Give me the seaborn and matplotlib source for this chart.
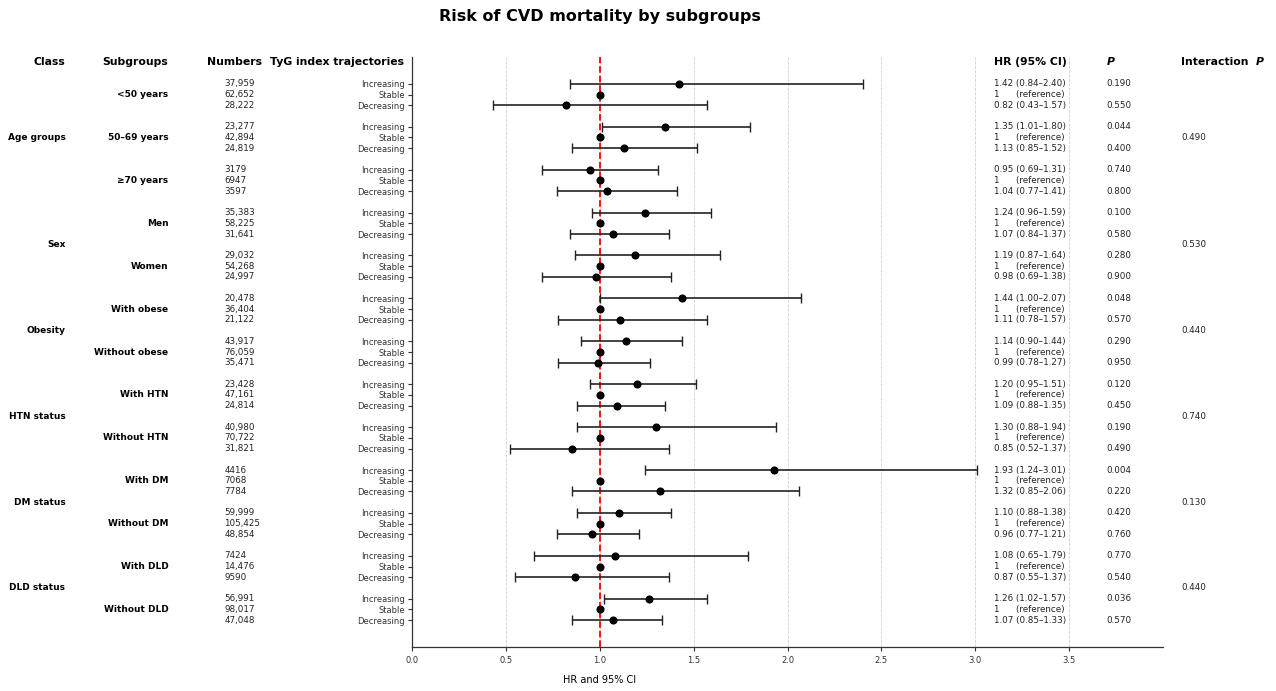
import pandas as pd
import matplotlib.pyplot as plt
import seaborn as sns

# data
classes = ["Age groups", "Sex", "Obesity", "HTN status", "DM status", "DLD status"]
class_sizes = [3, 2, 2, 2, 2, 2]
interaction_p = ["0.490", "0.530", "0.440", "0.740", "0.130", "0.440"]

subgroups = ["<50 years", "50\u201369 years", "\u226570 years", "Men", "Women",
             "With obese", "Without obese", "With HTN", "Without HTN",
             "With DM", "Without DM", "With DLD", "Without DLD"]
trajectories = ["Increasing", "Stable", "Decreasing"]

numbers = [
    ["37,959", "62,652", "28,222"],
    ["23,277", "42,894", "24,819"],
    ["3179", "6947", "3597"],
    ["35,383", "58,225", "31,641"],
    ["29,032", "54,268", "24,997"],
    ["20,478", "36,404", "21,122"],
    ["43,917", "76,059", "35,471"],
    ["23,428", "47,161", "24,814"],
    ["40,980", "70,722", "31,821"],
    ["4416", "7068", "7784"],
    ["59,999", "105,425", "48,854"],
    ["7424", "14,476", "9590"],
    ["56,991", "98,017", "47,048"],
]
hr = [[1.42, 1, 0.82], [1.35, 1, 1.13], [0.95, 1, 1.04], [1.24, 1, 1.07],
      [1.19, 1, 0.98], [1.44, 1, 1.11], [1.14, 1, 0.99], [1.20, 1, 1.09],
      [1.30, 1, 0.85], [1.93, 1, 1.32], [1.10, 1, 0.96], [1.08, 1, 0.87],
      [1.26, 1, 1.07]]
ci_low = [[0.84, 1, 0.43], [1.01, 1, 0.85], [0.69, 1, 0.77], [0.96, 1, 0.84],
          [0.87, 1, 0.69], [1.00, 1, 0.78], [0.90, 1, 0.78], [0.95, 1, 0.88],
          [0.88, 1, 0.52], [1.24, 1, 0.85], [0.88, 1, 0.77], [0.65, 1, 0.55],
          [1.02, 1, 0.85]]
ci_high = [[2.40, 1, 1.57], [1.80, 1, 1.52], [1.31, 1, 1.41], [1.59, 1, 1.37],
           [1.64, 1, 1.38], [2.07, 1, 1.57], [1.44, 1, 1.27], [1.51, 1, 1.35],
           [1.94, 1, 1.37], [3.01, 1, 2.06], [1.38, 1, 1.21], [1.79, 1, 1.37],
           [1.57, 1, 1.33]]
p_values = [["0.190", "", "0.550"], ["0.044", "", "0.400"], ["0.740", "", "0.800"],
            ["0.100", "", "0.580"], ["0.280", "", "0.900"], ["0.048", "", "0.570"],
            ["0.290", "", "0.950"], ["0.120", "", "0.450"], ["0.190", "", "0.490"],
            ["0.004", "", "0.220"], ["0.420", "", "0.760"], ["0.770", "", "0.540"],
            ["0.036", "", "0.570"]]

# long table, one row per trajectory
records = []
for g, sub in enumerate(subgroups):
    for k, traj in enumerate(trajectories):
        records.append({
            "row": 4 * g + k, "subgroup": sub, "traj": traj,
            "n": numbers[g][k], "hr": hr[g][k], "lo": ci_low[g][k],
            "hi": ci_high[g][k], "p": p_values[g][k],
        })
df = pd.DataFrame(records)

sns.set_style("ticks")
plt.rcParams["font.family"] = ["DejaVu Sans"]
plt.rcParams["text.color"] = "black"

fig = plt.figure(figsize=(12.76, 6.91), dpi=100)
ax = fig.add_axes([412 / 1276, 1 - 647 / 691, 751 / 1276, 590 / 691])

ax.axvline(1, color="red", ls="--", lw=1.3, zorder=1.5)

ci = df[df["traj"] != "Stable"]
ax.errorbar(ci["hr"], ci["row"],
            xerr=[ci["hr"] - ci["lo"], ci["hi"] - ci["hr"]],
            fmt="none", ecolor="#222222", elinewidth=1.2, capsize=3.5,
            capthick=1.0, zorder=2)
sns.scatterplot(data=df, x="hr", y="row", color="black", s=34,
                edgecolor="black", linewidth=0, zorder=3, ax=ax, legend=False)

ax.set_xlim(0, 4)
ax.set_ylim(52.5, -2.5)
ax.set_xticks([0, 0.5, 1.0, 1.5, 2.0, 2.5, 3.0, 3.5])
ax.set_xticklabels(["0.0", "0.5", "1.0", "1.5", "2.0", "2.5", "3.0", "3.5"])
ax.tick_params(axis="x", labelsize=6, length=3, width=0.8, colors="#333333")
ax.set_yticks(df["row"])
ax.set_yticklabels(df["traj"])
ax.tick_params(axis="y", labelsize=6, length=3, width=0.8, colors="#333333", pad=2)
ax.grid(axis="x", ls="--", color="#d0d0d0", lw=0.6)
ax.set_xlabel("")
ax.set_ylabel("")
sns.despine(ax=ax)
for s in ["left", "bottom"]:
    ax.spines[s].set_color("#333333")
    ax.spines[s].set_linewidth(0.9)

fig.text(600 / 1276, 1 - 680 / 691, "HR and 95% CI", ha="center",
         va="center", fontsize=7)

# header row
hy = -2
hkw = dict(fontsize=7.8, fontweight="bold", va="center", clip_on=False)
ax.text(-1.846, hy, "Class", ha="right", **hkw)
ax.text(-1.298, hy, "Subgroups", ha="right", **hkw)
ax.text(-0.80, hy, "Numbers", ha="right", **hkw)
ax.text(-0.04, hy, "TyG index trajectories", ha="right", **hkw)
ax.text(3.10, hy, "HR (95% CI)", ha="left", **hkw)
ax.text(3.70, hy, "P", ha="left", style="italic", **hkw)
ax.text(4.096, hy, "Interaction", ha="left", **hkw)
ax.text(4.495, hy, "P", ha="left", style="italic", **hkw)

dkw = dict(fontsize=6.3, va="center", clip_on=False, color="#222222")
for _, r in df.iterrows():
    ax.text(-1.0, r["row"], r["n"], ha="left", **dkw)
    if r["traj"] == "Stable":
        label = "1      (reference)"
    else:
        label = f"{r['hr']:.2f} ({r['lo']:.2f}\u2013{r['hi']:.2f})"
    ax.text(3.10, r["row"], label, ha="left", **dkw)
    if r["p"]:
        ax.text(3.70, r["row"], r["p"], ha="left", **dkw)

# subgroup labels on the Stable row
for g, sub in enumerate(subgroups):
    ax.text(-1.298, 4 * g + 1, sub, ha="right", va="center", fontsize=6.5,
            fontweight="bold", clip_on=False)

# class labels and interaction P
start = 0
for cls, size, ip in zip(classes, class_sizes, interaction_p):
    mid = sum(4 * g + 1 for g in range(start, start + size)) / size
    ax.text(-1.846, mid, cls, ha="right", va="center", fontsize=6.5,
            fontweight="bold", clip_on=False)
    ax.text(4.096, mid, ip, ha="left", **dkw)
    start += size

fig.text(600 / 1276, 1 - 16 / 691, "Risk of CVD mortality by subgroups",
         ha="center", va="center", fontsize=11.5, fontweight="bold")

fig.savefig("out.png", dpi=100)
